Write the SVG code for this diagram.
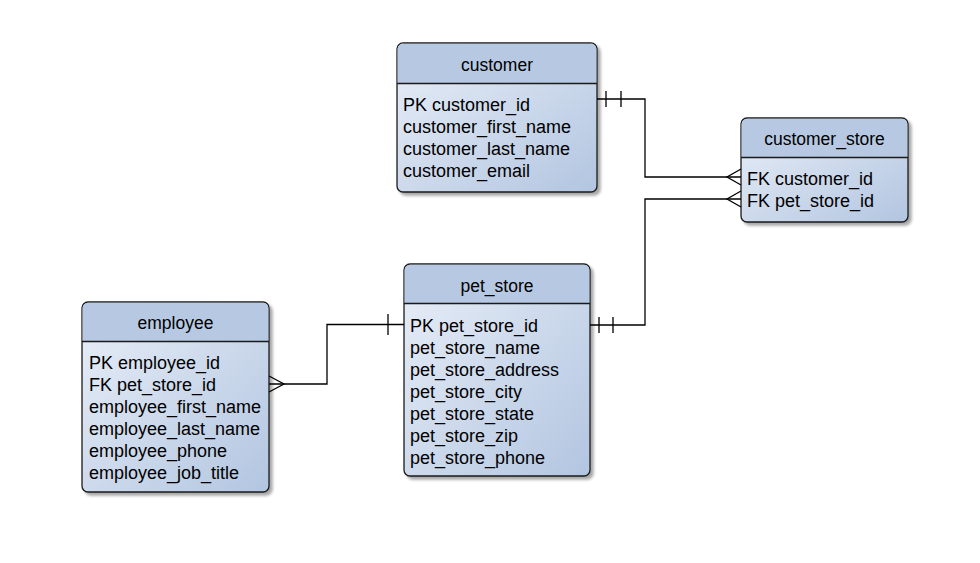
<svg xmlns="http://www.w3.org/2000/svg" width="980" height="563" viewBox="0 0 980 563">
  <defs>
    <linearGradient id="bodyFill" x1="0" y1="0" x2="1" y2="1">
      <stop offset="0" stop-color="#e9eff8"/>
      <stop offset="1" stop-color="#b2c5e0"/>
    </linearGradient>
    <filter id="shadow" x="-10%" y="-10%" width="130%" height="130%">
      <feGaussianBlur in="SourceAlpha" stdDeviation="1.5"/>
      <feOffset dx="3" dy="3" result="off"/>
      <feComponentTransfer><feFuncA type="linear" slope="0.35"/></feComponentTransfer>
      <feMerge><feMergeNode/><feMergeNode in="SourceGraphic"/></feMerge>
    </filter>
  </defs>
  <style>
    .box { fill: url(#bodyFill); stroke: #1a1a1a; stroke-width: 1.3; filter: url(#shadow); }
    .head { fill: #b7c9e2; }
    .div { stroke: #1a1a1a; stroke-width: 1.3; }
    .title { font-family: "Liberation Sans", Arial, sans-serif; font-size: 17.5px; fill: #000; text-anchor: middle; }
    .row { font-family: "Liberation Sans", Arial, sans-serif; font-size: 18px; fill: #000; }
    .conn { fill: none; stroke: #000; stroke-width: 1.3; }
  </style>
  <rect width="980" height="563" fill="#fff"/>

  <!-- customer -->
  <g id="customer">
    <rect class="box" x="397" y="43" width="200" height="149" rx="6"/>
    <path class="head" d="M403.6,43.65 H590.4 A5.35,5.35 0 0 1 596.35,49 V83.35 H397.65 V49 A5.35,5.35 0 0 1 403.6,43.65 Z"/>
    <line class="div" x1="397" y1="83.5" x2="597" y2="83.5"/>
    <text class="title" x="497" y="71">customer</text>
    <text class="row" x="403" y="111">PK customer_id</text>
    <text class="row" x="403" y="133">customer_first_name</text>
    <text class="row" x="403" y="155">customer_last_name</text>
    <text class="row" x="403" y="177">customer_email</text>
  </g>

  <!-- customer_store -->
  <g id="customer_store">
    <rect class="box" x="741" y="118" width="167" height="104" rx="6"/>
    <path class="head" d="M747,118.65 H901.6 A5.35,5.35 0 0 1 907.35,124 V157.35 H741.65 V124 A5.35,5.35 0 0 1 747,118.65 Z"/>
    <line class="div" x1="741" y1="157.5" x2="908" y2="157.5"/>
    <text class="title" x="824.5" y="145">customer_store</text>
    <text class="row" x="747" y="185">FK customer_id</text>
    <text class="row" x="747" y="207">FK pet_store_id</text>
  </g>

  <!-- pet_store -->
  <g id="pet_store">
    <rect class="box" x="404" y="264" width="186" height="212" rx="6"/>
    <path class="head" d="M410,264.65 H583.6 A5.35,5.35 0 0 1 589.35,270 V303.35 H404.65 V270 A5.35,5.35 0 0 1 410,264.65 Z"/>
    <line class="div" x1="404" y1="303.5" x2="590" y2="303.5"/>
    <text class="title" x="497" y="292">pet_store</text>
    <text class="row" x="410" y="332">PK pet_store_id</text>
    <text class="row" x="410" y="354">pet_store_name</text>
    <text class="row" x="410" y="376">pet_store_address</text>
    <text class="row" x="410" y="398">pet_store_city</text>
    <text class="row" x="410" y="420">pet_store_state</text>
    <text class="row" x="410" y="442">pet_store_zip</text>
    <text class="row" x="410" y="464">pet_store_phone</text>
  </g>

  <!-- employee -->
  <g id="employee">
    <rect class="box" x="82" y="302" width="187" height="190" rx="6"/>
    <path class="head" d="M88,302.65 H262.6 A5.35,5.35 0 0 1 268.35,308 V341.35 H82.65 V308 A5.35,5.35 0 0 1 88,302.65 Z"/>
    <line class="div" x1="82" y1="341.5" x2="269" y2="341.5"/>
    <text class="title" x="175.5" y="329">employee</text>
    <text class="row" x="89" y="369">PK employee_id</text>
    <text class="row" x="89" y="391">FK pet_store_id</text>
    <text class="row" x="89" y="413">employee_first_name</text>
    <text class="row" x="89" y="435">employee_last_name</text>
    <text class="row" x="89" y="457">employee_phone</text>
    <text class="row" x="89" y="479">employee_job_title</text>
  </g>

  <!-- relationships -->
  <g id="connectors">
    <!-- customer ||—< customer_store -->
    <path class="conn" d="M597,99 H645 V177 H741"/>
    <path class="conn" d="M606,91 V107 M621,91 V107"/>
    <path class="conn" d="M741,169 L727,177 L741,185"/>
    <!-- pet_store ||—< customer_store -->
    <path class="conn" d="M590,325 H645 V199 H741"/>
    <path class="conn" d="M599,317 V333 M613,317 V333"/>
    <path class="conn" d="M741,191 L727,199 L741,207"/>
    <!-- pet_store |—< employee -->
    <path class="conn" d="M269,384 H327 V324.5 H404"/>
    <path class="conn" d="M388,314 V335"/>
    <path class="conn" d="M269,376 L284,384 L269,392"/>
  </g>
</svg>
